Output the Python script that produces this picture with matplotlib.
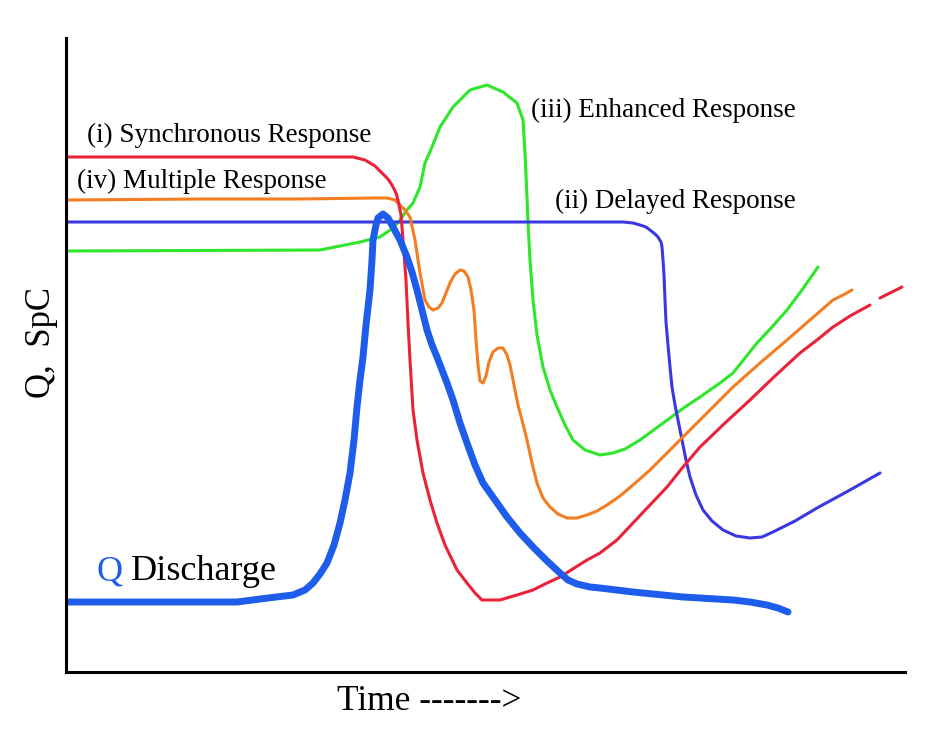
import matplotlib
matplotlib.use("Agg")
import matplotlib.pyplot as plt

# Schematic hydrograph / SpC responses, arbitrary units (time, level)
# (i) synchronous response
sync_t = [2, 287, 299, 309, 316, 322, 326, 330, 332, 335, 337, 340, 342, 344, 347,
          351, 357, 364, 371, 379, 391, 401, 409, 416, 434, 451, 467, 479, 494, 521,
          534, 551, 567, 584, 601, 617, 634, 659, 684, 709, 734, 751, 767, 784, 804]
sync_v = [515, 515, 512, 506, 499, 493, 487, 479, 472, 457, 432, 392, 349, 312, 262,
          232, 199, 172, 149, 127, 102, 89, 79, 72, 72, 77, 82, 88, 95, 112,
          119, 132, 149, 167, 185, 205, 225, 249, 272, 296, 319, 332, 345, 356, 367]
sync_tail_t = [814, 836]
sync_tail_v = [374, 385]

# (ii) delayed response
delay_t = [2, 557, 567, 574, 580, 584, 589, 592, 595, 596, 597, 598, 599, 600, 602,
           604, 606, 609, 611, 614, 616, 620, 624, 630, 637, 646, 657, 670, 684, 696,
           707, 729, 751, 784, 814]
delay_v = [450, 450, 449, 447, 445, 442, 438, 435, 430, 425, 412, 397, 372, 350, 327,
           305, 285, 267, 257, 242, 232, 212, 195, 177, 162, 151, 142, 136, 134, 135,
           140, 151, 164, 182, 199]

# (iii) enhanced response
enh_t = [2, 254, 294, 314, 327, 334, 341, 347, 354, 359, 366, 374, 387, 404, 421,
         437, 451, 457, 459, 461, 462, 464, 467, 471, 477, 484, 491, 499, 507, 519,
         534, 547, 559, 574, 589, 604, 619, 634, 654, 667, 679, 691, 706, 721, 736, 752]
enh_v = [421, 422, 430, 435, 444, 452, 462, 469, 485, 509, 525, 545, 565, 582, 587,
         580, 569, 552, 519, 475, 449, 412, 372, 337, 305, 282, 265, 247, 232, 222,
         217, 219, 223, 232, 243, 254, 265, 275, 289, 299, 314, 329, 345, 362, 382, 405]

# (iv) multiple response
mult_t = [2, 134, 234, 309, 321, 329, 334, 339, 344, 349, 354, 359, 363, 367, 372,
          376, 380, 384, 389, 394, 398, 402, 405, 408, 410, 412, 414, 417, 420, 423,
          427, 432, 437, 441, 444, 448, 452, 456, 461, 466, 471, 477, 484, 492, 501,
          511, 521, 531, 541, 554, 567, 584, 599, 614, 639, 667, 694, 721, 744, 767,
          779, 786]
mult_v = [472, 473, 473, 474, 474, 472, 467, 462, 455, 432, 399, 372, 365, 362, 364,
          369, 379, 389, 398, 402, 401, 395, 382, 362, 332, 307, 291, 289, 296, 310,
          320, 324, 324, 317, 307, 287, 267, 252, 232, 209, 189, 174, 165, 158, 154,
          154, 157, 161, 167, 176, 187, 202, 217, 232, 257, 285, 309, 332, 352, 372,
          378, 382]

# Q discharge
q_t = [2, 171, 202, 227, 239, 247, 254, 261, 268, 274, 279, 284, 288, 291, 294, 297,
       300, 304, 306, 307, 310, 312, 317, 322, 327, 334, 341, 346, 351, 356, 361, 366,
       371, 376, 381, 387, 394, 401, 409, 417, 429, 441, 454, 467, 480, 494, 502, 511,
       524, 534, 567, 617, 667, 684, 701, 712, 722]
q_v = [70, 70, 74, 77, 82, 89, 98, 109, 127, 149, 172, 199, 232, 265, 292, 315,
       347, 382, 412, 432, 447, 454, 458, 454, 445, 432, 415, 400, 382, 362, 342, 327,
       315, 302, 289, 272, 249, 229, 207, 189, 172, 155, 139, 125, 112, 99, 92, 88,
       85, 84, 80, 75, 72, 70, 67, 64, 60]

RED = "#ea2238"
ORANGE = "#f47d22"
GREEN = "#2ee62a"
INDIGO = "#3b38e2"
QBLUE = "#1e5cec"
SERIF = ["Liberation Serif", "DejaVu Serif"]

fig = plt.figure(figsize=(9.38, 7.41), dpi=100)
ax = fig.add_axes([66 / 938, 69 / 741, 839 / 938, 634 / 741])

thin = dict(lw=2.2, solid_capstyle="round", solid_joinstyle="round")
ax.plot(enh_t, enh_v, color=GREEN, **thin)
ax.plot(delay_t, delay_v, color=INDIGO, **thin)
ax.plot(mult_t, mult_v, color=ORANGE, **thin)
ax.plot(sync_t, sync_v, color=RED, **thin)
ax.plot(sync_tail_t, sync_tail_v, color=RED, **thin)
ax.plot(q_t, q_v, color=QBLUE, lw=5, solid_capstyle="round", solid_joinstyle="round")

ax.set_xlim(0, 839)
ax.set_ylim(0, 634)
ax.set_xticks([])
ax.set_yticks([])
for side in ["top", "right"]:
    ax.spines[side].set_visible(False)
for side in ["left", "bottom"]:
    ax.spines[side].set_linewidth(2.2)
    ax.spines[side].set_color("black")

# curve labels
lab = dict(family=SERIF, fontsize=19.5, va="baseline", ha="left")
ax.text(21, 530, "(i) Synchronous Response", **lab)
ax.text(11, 484, "(iv) Multiple Response", **lab)
ax.text(465, 555, "(iii) Enhanced Response", **lab)
ax.text(489, 464, "(ii) Delayed Response", **lab)

ax.text(30, 92, "Q", color=QBLUE, family=SERIF, fontsize=26, va="baseline")
ax.text(65, 92, "Discharge", color="black", family=SERIF, fontsize=26, va="baseline")

# axis titles
fig.text(337 / 938, 1 - 710 / 741, "Time ------->", family=SERIF, fontsize=25.5,
         ha="left", va="baseline")
fig.text(42 / 938, 1 - 342 / 741, "Q,  SpC", family=SERIF, fontsize=25,
         ha="center", va="center", rotation=90)

fig.savefig("out.png", dpi=100)
